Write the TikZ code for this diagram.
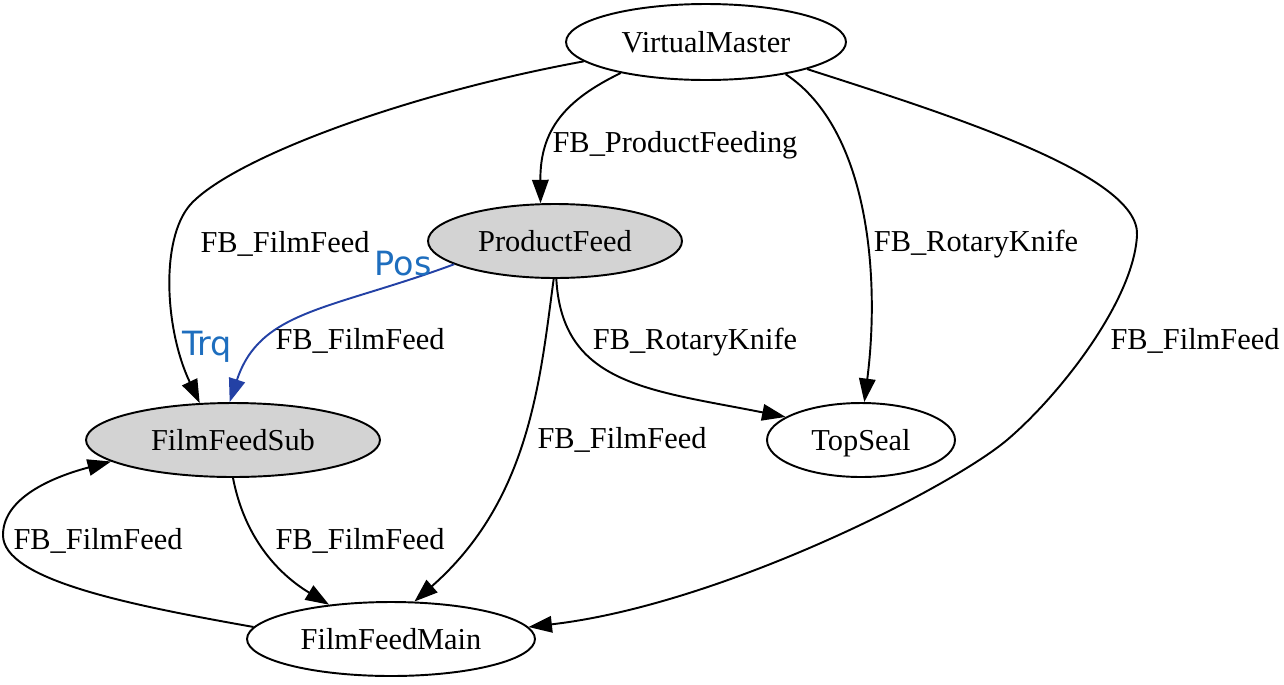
\documentclass[tikz,border=0pt]{standalone}
\usepackage{fontspec}
\setmainfont{Liberation Serif}
\newfontfamily\lblsans{DejaVu Sans}
\usetikzlibrary{shapes.geometric,arrows.meta}
\definecolor{nodegray}{RGB}{211,211,211}
\definecolor{edgeblue}{RGB}{35,65,165}
\definecolor{lblblue}{RGB}{30,110,190}
\tikzset{
  gnode/.style={ellipse,draw=black,line width=1.1pt,inner sep=0pt,
    font=\fontsize{17.3}{20}\selectfont,text depth=0pt,minimum height=1.48cm},
  filled/.style={fill=nodegray},
  edge/.style={line width=1.1pt,-{Triangle[length=0.47cm,width=0.33cm]}},
  blueedge/.style={edge,draw=edgeblue,-{Triangle[length=0.47cm,width=0.33cm,fill=edgeblue]}},
  elabel/.style={font=\fontsize{17.3}{20}\selectfont,anchor=base,inner sep=0pt},
  plabel/.style={font=\lblsans\fontsize{19}{22}\selectfont,text=lblblue,anchor=base,inner sep=0pt}
}
\begin{document}
\begin{tikzpicture}[x=0.02cm,y=-0.02cm]
\useasboundingbox (0,0) rectangle (1284,684);
% nodes
\node[gnode,minimum width=5.6cm,minimum height=1.52cm] (vm) at (706,42) {VirtualMaster};
\node[gnode,filled,minimum width=5.08cm] (pf) at (555,241) {ProductFeed};
\node[gnode,filled,minimum width=5.88cm] (fs) at (233,440) {FilmFeedSub};
\node[gnode,minimum width=3.76cm] (ts) at (861,440) {TopSeal};
\node[gnode,minimum width=5.76cm] (fm) at (391,639) {FilmFeedMain};
% edges
\draw[edge] (vm.189) .. controls (400,95) and (230,160) .. (190,205)
  .. controls (160,240) and (165,330) .. (fs.132);
\draw[edge] (vm.200) .. controls (565,100) and (540,130) .. (pf.111);
\draw[edge] (vm.-22) .. controls (870,130) and (880,280) .. (ts.85);
\draw[edge] (vm.-15) .. controls (950,115) and (1140,175) .. (1137,235)
  .. controls (1134,300) and (1060,395) .. (1007,440)
  .. controls (950,488) and (720,605) .. (fm.5);
\draw[blueedge] (pf.193) .. controls (330,310) and (260,310) .. (fs.95);
\draw[edge] (pf.-88) .. controls (562,385) and (650,390) .. (ts.163);
\draw[edge] (pf.-92) .. controls (540,380) and (530,500) .. (fm.58);
\draw[edge] (fs.-90) .. controls (245,540) and (280,575) .. (fm.151);
\draw[edge] (fm.175) .. controls (130,605) and (3,580) .. (3,535)
  .. controls (3,495) and (60,475) .. (fs.190);
% labels
\node[elabel] (l1) at (285,252) {FB\_FilmFeed};
\node[elabel] (l2) at (675,152) {FB\_ProductFeeding};
\node[elabel] (l3) at (976,251) {FB\_RotaryKnife};
\node[elabel] (l4) at (1195,349) {FB\_FilmFeed};
\node[elabel] (l5) at (360,349) {FB\_FilmFeed};
\node[elabel] (l6) at (695,349) {FB\_RotaryKnife};
\node[elabel] (l7) at (622,448) {FB\_FilmFeed};
\node[elabel] (l8) at (360,549) {FB\_FilmFeed};
\node[elabel] (l9) at (98,549) {FB\_FilmFeed};
\node[plabel] (pos) at (403,275) {Pos};
\node[plabel] (trq) at (207,355) {Trq};
\end{tikzpicture}
\end{document}
